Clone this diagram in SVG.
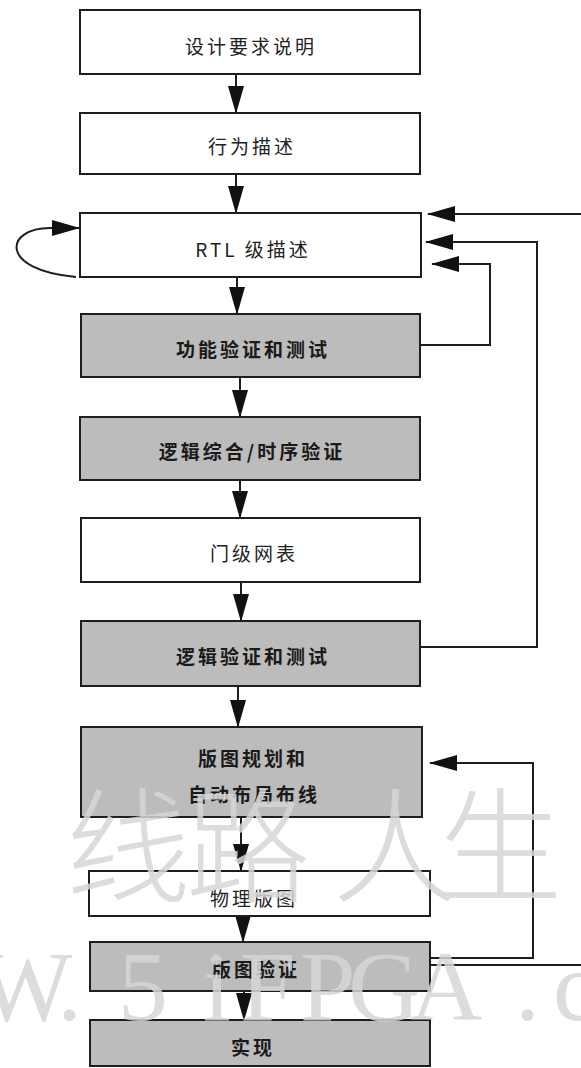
<svg xmlns="http://www.w3.org/2000/svg" width="581" height="1068" viewBox="0 0 581 1068">
<style>
.box{stroke:#1e1e1e;stroke-width:2}
.w{fill:#ffffff}
.g{fill:#bcbcbc}
.lbl{font-family:"Noto Sans CJK SC","Liberation Serif",serif;font-size:19px;fill:#222;text-anchor:middle;dominant-baseline:central;letter-spacing:3px}
.lb{font-weight:bold;fill:#1a1a1a}
.con{fill:none;stroke:#1e1e1e;stroke-width:2}
.wm{fill:#d6d6d6;opacity:0.85}
</style>
<defs>
<marker id="ah" markerUnits="userSpaceOnUse" markerWidth="28" markerHeight="16" refX="27" refY="8" orient="auto">
<path d="M0,0 L28,8 L0,16 z" fill="#111"/>
</marker>
</defs>
<rect width="581" height="1068" fill="#ffffff"/>
<g id="connectors">
<line class="con" x1="236" y1="75" x2="236" y2="113" marker-end="url(#ah)"/>
<line class="con" x1="236" y1="174" x2="236" y2="213" marker-end="url(#ah)"/>
<line class="con" x1="237" y1="277" x2="237" y2="314" marker-end="url(#ah)"/>
<line class="con" x1="240" y1="377" x2="240" y2="417" marker-end="url(#ah)"/>
<line class="con" x1="240" y1="480" x2="240" y2="518" marker-end="url(#ah)"/>
<line class="con" x1="241" y1="582" x2="241" y2="621" marker-end="url(#ah)"/>
<line class="con" x1="238" y1="686" x2="238" y2="727" marker-end="url(#ah)"/>
<line class="con" x1="241" y1="817" x2="241" y2="871" marker-end="url(#ah)"/>
<line class="con" x1="243" y1="916" x2="243" y2="942" marker-end="url(#ah)"/>
<line class="con" x1="244" y1="991" x2="244" y2="1020" marker-end="url(#ah)"/>
<path class="con" d="M76,277 C-2,270 5,228 50,228 L79,228" marker-end="url(#ah)"/>
<path class="con" d="M420,345 L490,345 L490,264 L432,264" marker-end="url(#ah)"/>
<path class="con" d="M420,647 L537,647 L537,242 L426,242" marker-end="url(#ah)"/>
<path class="con" d="M581,214 L428,214" marker-end="url(#ah)"/>
<path class="con" d="M430,958 L533,958 L533,763 L430,763" marker-end="url(#ah)"/>
<path class="con" d="M430,965 L581,965"/>
</g>
<g id="n1"><rect class="box w" x="80" y="10" width="340" height="64"/><text class="lbl" x="251" y="45">设计要求说明</text></g>
<g id="n2"><rect class="box w" x="80" y="113" width="340" height="61"/><text class="lbl" x="252" y="145">行为描述</text></g>
<g id="n3"><rect class="box w" x="80" y="213" width="341" height="64"/><text class="lbl" x="253" y="248">RTL 级描述</text></g>
<g id="n4"><rect class="box g" x="81" y="314" width="339" height="63"/><text class="lbl lb" x="253" y="348">功能验证和测试</text></g>
<g id="n5"><rect class="box g" x="80" y="417" width="340" height="63"/><text class="lbl lb" x="252" y="450">逻辑综合/时序验证</text></g>
<g id="n6"><rect class="box w" x="81" y="518" width="339" height="64"/><text class="lbl" x="254" y="552">门级网表</text></g>
<g id="n7"><rect class="box g" x="81" y="621" width="339" height="65"/><text class="lbl lb" x="253" y="655">逻辑验证和测试</text></g>
<g id="n8"><rect class="box g" x="81" y="727" width="341" height="90"/><text class="lbl lb" x="253" y="757">版图规划和</text><text class="lbl lb" x="254" y="793">自动布局布线</text></g>
<g id="n9"><rect class="box w" x="89" y="871" width="341" height="45"/><text class="lbl" x="254" y="897">物理版图</text></g>
<g id="n10"><rect class="box g" x="90" y="942" width="340" height="49"/><text class="lbl lb" x="256" y="968">版图验证</text></g>
<g id="n11"><rect class="box g" x="90" y="1020" width="340" height="46"/><text class="lbl lb" x="253" y="1046">实现</text></g>
<g id="watermark">
<text class="wm" font-family="Noto Sans CJK SC, sans-serif" font-weight="300" font-size="125" text-anchor="middle" x="128 248 395 500" y="893">线路人生</text>
<text class="wm" font-family="Liberation Serif, serif" font-size="100" x="-22 57 118 203 240 300 348 410 515 553" y="1020">W.5iFPGA.c</text>
</g>
</svg>
